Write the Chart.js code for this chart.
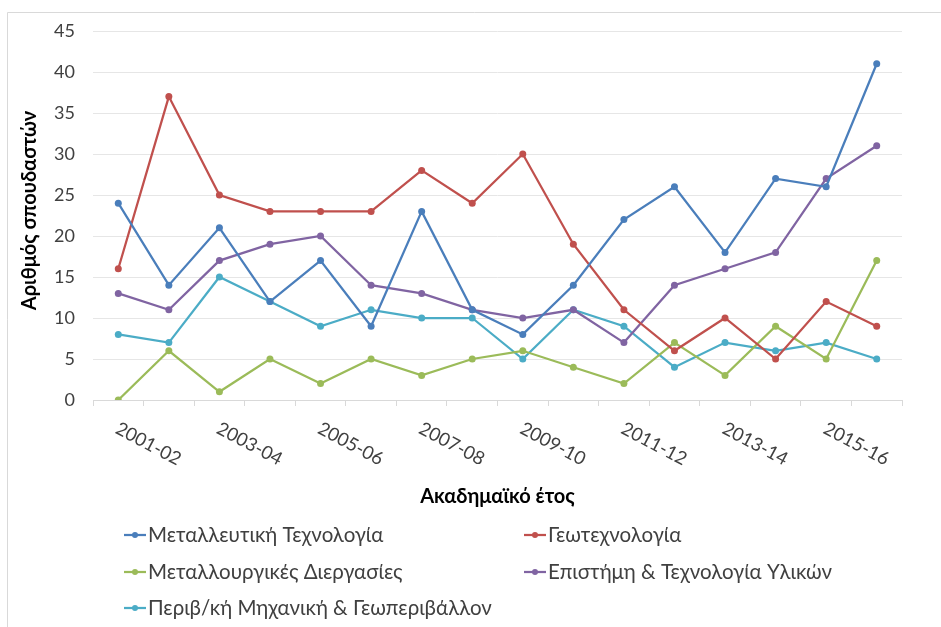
<!DOCTYPE html>
<html>
<head>
<meta charset="utf-8">
<script src="https://cdn.jsdelivr.net/npm/chart.js@4/dist/chart.umd.min.js"></script>
<style>
  html, body { margin: 0; padding: 0; background: #fff; }
  #wrap { width: 941px; height: 627px; }
</style>
</head>
<body>
<div id="wrap"><canvas id="chart" width="941" height="627"></canvas></div>
<script>
const years = ['2001-02', '2002-03', '2003-04', '2004-05', '2005-06', '2006-07', '2007-08', '2008-09',
  '2009-10', '2010-11', '2011-12', '2012-13', '2013-14', '2014-15', '2015-16', '2016-17'];

const seriesNames = ['Μεταλλευτική Τεχνολογία', 'Γεωτεχνολογία', 'Μεταλλουργικές Διεργασίες',
  'Επιστήμη & Τεχνολογία Υλικών', 'Περιβ/κή Μηχανική & Γεωπεριβάλλον'];

const metalleutiki = [24, 14, 21, 12, 17, 9, 23, 11, 8, 14, 22, 26, 18, 27, 26, 41];
const geotexnologia = [16, 37, 25, 23, 23, 23, 28, 24, 30, 19, 11, 6, 10, 5, 12, 9];
const metallourgikes = [0, 6, 1, 5, 2, 5, 3, 5, 6, 4, 2, 7, 3, 9, 5, 17];
const epistimi = [13, 11, 17, 19, 20, 14, 13, 11, 10, 11, 7, 14, 16, 18, 27, 31];
const perivallon = [8, 7, 15, 12, 9, 11, 10, 10, 5, 11, 9, 4, 7, 6, 7, 5];

const colors = ['#4a7ebb', '#c0504d', '#9bbb59', '#8064a2', '#4bacc6'];
const FONT = 'Lato, "Open Sans", sans-serif';

const allSeries = [metalleutiki, geotexnologia, metallourgikes, epistimi, perivallon];

const datasets = allSeries.map((vals, i) => ({
  label: seriesNames[i],
  data: vals,
  borderColor: colors[i],
  backgroundColor: colors[i],
  borderWidth: 2.25,
  pointRadius: 3.5,
  pointBorderWidth: 0,
  tension: 0
}));

// draws frame, rotated year labels, axis titles and the 2-column legend
const excelBits = {
  id: 'excelBits',
  beforeDraw(chart) {
    const ctx = chart.ctx;
    ctx.save();
    ctx.fillStyle = '#fff';
    ctx.fillRect(0, 0, chart.width, chart.height);
    ctx.strokeStyle = '#d9d9d9';
    ctx.lineWidth = 1;
    ctx.beginPath();
    ctx.moveTo(7.5, chart.height);
    ctx.lineTo(7.5, 12.5);
    ctx.lineTo(chart.width, 12.5);
    ctx.stroke();
    ctx.restore();
  },
  afterDraw(chart) {
    const ctx = chart.ctx;
    const xs = chart.scales.x;
    const area = chart.chartArea;
    ctx.save();
    ctx.fillStyle = '#404040';

    // year labels every other category, slanted down to the right
    ctx.font = '18.5px ' + FONT;
    ctx.textAlign = 'left';
    ctx.textBaseline = 'top';
    years.forEach((y, i) => {
      if (i % 2) return;
      const x = xs.getPixelForValue(i);
      ctx.save();
      ctx.translate(x + 3, area.bottom + 19);
      ctx.rotate(28 * Math.PI / 180);
      ctx.fillText(y, 0, 0);
      ctx.restore();
    });

    // axis titles
    ctx.font = 'bold 20px ' + FONT;
    ctx.textAlign = 'center';
    ctx.textBaseline = 'middle';
    ctx.fillStyle = '#000';
    ctx.fillText('Ακαδημαϊκό έτος', (area.left + area.right) / 2, 497);
    ctx.save();
    ctx.translate(30, (area.top + area.bottom) / 2 - 5);
    ctx.rotate(-Math.PI / 2);
    ctx.fillText('Αριθμός σπουδαστών', 0, 0);
    ctx.restore();

    // legend
    ctx.font = '20.5px ' + FONT;
    ctx.textAlign = 'left';
    const colX = [124, 524];
    const rowY = [535, 572, 608];
    chart.data.datasets.forEach((ds, i) => {
      const lx = colX[i % 2];
      const ly = rowY[Math.floor(i / 2)];
      ctx.strokeStyle = ds.borderColor;
      ctx.lineWidth = 2.25;
      ctx.beginPath();
      ctx.moveTo(lx, ly);
      ctx.lineTo(lx + 22, ly);
      ctx.stroke();
      ctx.fillStyle = ds.borderColor;
      ctx.beginPath();
      ctx.arc(lx + 11, ly, 3, 0, Math.PI * 2);
      ctx.fill();
      ctx.fillStyle = '#404040';
      ctx.fillText(ds.label, lx + 24, ly);
    });
    ctx.restore();
  }
};

new Chart(document.getElementById('chart'), {
  type: 'line',
  data: { labels: years, datasets: datasets },
  options: {
    responsive: false,
    animation: false,
    layout: { padding: { left: 0, right: 39, top: 31, bottom: 0 } },
    plugins: { legend: { display: false }, tooltip: { enabled: false } },
    scales: {
      x: {
        offset: true,
        afterFit: (s) => { s.height = 227; },
        grid: { offset: true, drawOnChartArea: false, drawTicks: true, tickLength: 6, color: '#d9d9d9' },
        border: { display: true, color: '#d9d9d9' },
        ticks: { display: false }
      },
      y: {
        min: 0,
        max: 45,
        afterFit: (s) => { s.width = 93; },
        ticks: { stepSize: 5, padding: 18, color: '#404040', font: { family: FONT, size: 18 } },
        grid: { color: '#e6e6e6', drawTicks: false },
        border: { display: false }
      }
    }
  },
  plugins: [excelBits]
});
</script>
</body>
</html>
